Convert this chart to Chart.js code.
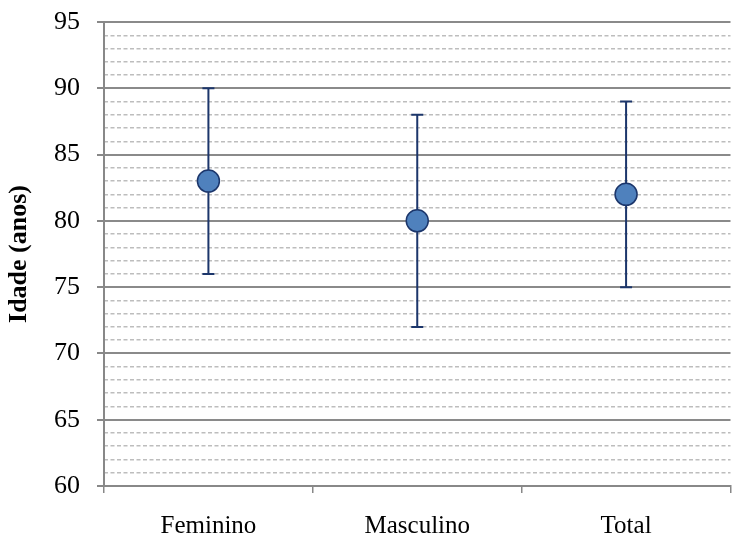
<!DOCTYPE html>
<html>
<head>
<meta charset="utf-8">
<script src="https://cdn.jsdelivr.net/npm/chart.js@4"></script>
<style>
html,body{margin:0;padding:0;background:#fff;overflow:hidden;width:734px;height:537px;}
#wrap{width:743px;height:537px;}
</style>
</head>
<body>
<div id="wrap"><canvas id="c" width="743" height="537"></canvas></div>
<script>
const categories = ['Feminino', 'Masculino', 'Total'];
const means = [83, 80, 82];
const lower = [76, 72, 75];
const upper = [90, 88, 89];
const yMin = 60, yMax = 95, majorStep = 5, minorStep = 1;

const serif = "'Liberation Serif', 'Times New Roman', serif";
const navy = '#1C366B';

const errorBars = {
  id: 'errorBars',
  beforeDatasetsDraw(chart) {
    const ctx = chart.ctx, x = chart.scales.x, y = chart.scales.y;
    ctx.save();
    ctx.strokeStyle = navy;
    ctx.lineWidth = 2;
    categories.forEach((c, i) => {
      const px = x.getPixelForValue(i);
      const pl = y.getPixelForValue(lower[i]);
      const pu = y.getPixelForValue(upper[i]);
      ctx.beginPath();
      ctx.moveTo(px, pl); ctx.lineTo(px, pu);
      ctx.moveTo(px - 6, pl); ctx.lineTo(px + 6, pl);
      ctx.moveTo(px - 6, pu); ctx.lineTo(px + 6, pu);
      ctx.stroke();
    });
    ctx.restore();
  }
};

new Chart(document.getElementById('c'), {
  type: 'line',
  data: {
    labels: categories,
    datasets: [{
      data: means,
      showLine: false,
      pointRadius: 11,
      pointHoverRadius: 11,
      pointBackgroundColor: '#4F81BD',
      pointBorderColor: navy,
      pointBorderWidth: 1.5,
      clip: false
    }]
  },
  options: {
    responsive: false,
    animation: false,
    events: [],
    layout: { padding: { top: 22, right: 0, bottom: 0, left: 0 } },
    plugins: { legend: { display: false }, tooltip: { enabled: false }, title: { display: false } },
    scales: {
      x: {
        type: 'category',
        offset: true,
        grid: { offset: true, drawOnChartArea: false, drawTicks: true, tickLength: 7, color: '#888', lineWidth: 1.5 },
        border: { display: true, color: '#888', width: 2 },
        ticks: { font: { family: serif, size: 25 }, color: '#000', padding: 18, maxRotation: 0 },
        afterFit(s) { s.height = 51; s.paddingLeft = 0; s.paddingRight = 0; }
      },
      yMinor: {
        position: 'left',
        min: yMin, max: yMax,
        ticks: { display: false, stepSize: minorStep },
        grid: {
          drawTicks: false,
          color: (ctx) => (ctx.tick && ctx.tick.value % majorStep === 0) ? 'rgba(0,0,0,0)' : '#bdbdbd',
          lineWidth: 1.5
        },
        border: { display: false, dash: [4, 2.5] },
        afterFit(s) { s.width = 0; s.paddingTop = 0; s.paddingBottom = 0; }
      },
      y: {
        position: 'left',
        min: yMin, max: yMax,
        ticks: { stepSize: majorStep, font: { family: serif, size: 26 }, color: '#000', padding: 17 },
        grid: { color: '#8a8a8a', lineWidth: 2, drawTicks: true, tickLength: 7, tickColor: '#888' },
        border: { display: true, color: '#888', width: 2 },
        title: { display: true, text: 'Idade (anos)', font: { family: serif, size: 26, weight: 'bold' }, color: '#000', padding: { top: 4, bottom: 0 } },
        afterFit(s) { s.width = 104; s.paddingTop = 0; s.paddingBottom = 0; }
      }
    }
  },
  plugins: [errorBars]
});
</script>
</body>
</html>
